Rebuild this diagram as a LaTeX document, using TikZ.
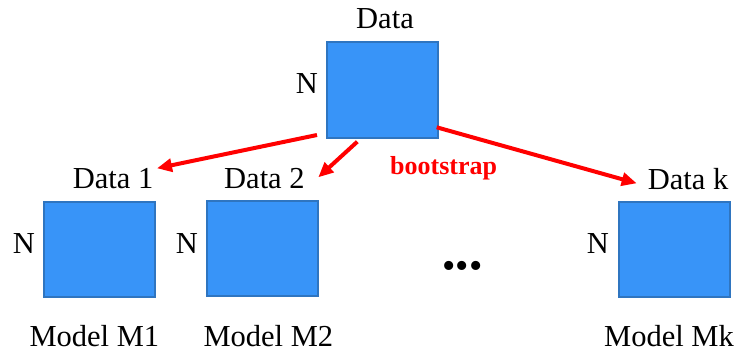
\documentclass[tikz,border=0pt]{standalone}
\usepackage{fontspec}
\setmainfont{Liberation Serif}
\usetikzlibrary{arrows.meta}
\definecolor{boxfill}{HTML}{3894F8}
\definecolor{boxline}{HTML}{2F75C0}
\definecolor{arrred}{HTML}{FF0000}
\begin{document}
\begin{tikzpicture}[x=1pt,y=-1pt,
  databox/.style={rectangle,fill=boxfill,draw=boxline,line width=2pt,minimum width=111pt,minimum height=95pt,inner sep=0pt},
  lbl/.style={inner sep=0pt,font=\fontsize{30.5}{36}\selectfont},
  boot/.style={inner sep=0pt,text=arrred,font=\fontsize{26}{30}\selectfont\bfseries},
  redarrow/.style={draw=arrred,line width=4pt,-{Triangle[length=15pt,width=13pt]},shorten >=0pt}
]
\useasboundingbox (0,0) rectangle (750,353);
% boxes
\node[databox] (top) at (382,90) {};
\node[databox] (b1) at (99.3,249) {};
\node[databox] (b2) at (262,248.8) {};
\node[databox] (bk) at (674,249) {};
% labels
\node[lbl,anchor=base] (ltop) at (385,29) {Data};
\node[lbl,anchor=base west] (l1) at (72.7,188.3) {Data 1};
\node[lbl,anchor=base west] (l2) at (224,188) {Data 2};
\node[lbl,anchor=base west] (lk) at (647.7,189) {Data k};
\node[lbl,anchor=base west] (ntop) at (295.7,93.3) {N};
\node[lbl,anchor=base west] (n1) at (12.7,253.3) {N};
\node[lbl,anchor=base west] (n2) at (175.7,253.3) {N};
\node[lbl,anchor=base west] (nk) at (586.7,253.3) {N};
\node[lbl,anchor=base west] (m1) at (29.3,346.7) {Model M1};
\node[lbl,anchor=base west] (m2) at (203.3,346.7) {Model M2};
\node[lbl,anchor=base west] (mk) at (604,346.7) {Model Mk};
\node[boot,anchor=base west] (bs) at (390,174.3) {bootstrap};
\node[inner sep=0pt,font=\fontsize{38}{44}\selectfont,anchor=center] (dots) at (462.5,270) {•••};
% arrow coordinates
\coordinate (s1) at (317,135);
\coordinate (e1) at (157,168.3);
\coordinate (s2) at (357.3,141.7);
\coordinate (e2) at (318.3,177.3);
\coordinate (sk) at (436.7,127.3);
\coordinate (ek) at (636.7,183.3);
\draw[redarrow] (s1) -- (e1);
\draw[redarrow] (s2) -- (e2);
\draw[redarrow] (sk) -- (ek);
\end{tikzpicture}
\end{document}
